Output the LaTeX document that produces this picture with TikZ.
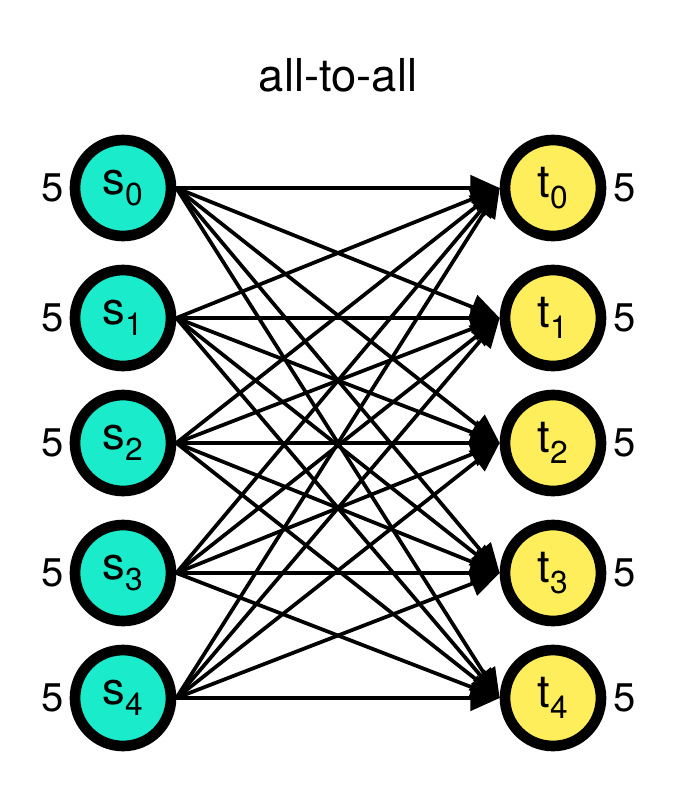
\documentclass[tikz,border=0pt]{standalone}
\usepackage{fontspec}
\setmainfont{TeX Gyre Heros}
\usetikzlibrary{arrows.meta}
\definecolor{srccol}{HTML}{19EBCB}
\definecolor{dstcol}{HTML}{FFEE5C}
\tikzset{
  vert/.style={circle, draw=black, line width=8pt, minimum size=72pt, inner sep=0pt, font=\fontsize{34}{34}\selectfont},
  src/.style={vert, fill=srccol},
  dst/.style={vert, fill=dstcol},
  weight/.style={font=\fontsize{30}{30}\selectfont},
  edge/.style={-{Triangle[length=22pt,width=19pt]}, line width=2.8pt}
}
\begin{document}
\begin{tikzpicture}[x=0.75pt,y=-0.75pt]
        \useasboundingbox (0,0) rectangle (676,800);

        % Title
        \node[font=\fontsize{34}{34}\selectfont] (title) at (338,75) {all-to-all};

        % Sources and sinks
        \foreach \i/\y in {0/188,1/318,2/443,3/573,4/698} {
          \node[src] (s\i) at (123,\y) {s\textsubscript{\i}};
          \node[dst] (t\i) at (553,\y) {t\textsubscript{\i}};
          \node[weight, anchor=east] (ls\i) at ([xshift=-1pt]s\i.west) {5};
          \node[weight, anchor=west] (lt\i) at ([xshift=2pt]t\i.east) {5};
        }

        % All edges
        \foreach \i in {0,...,4} {
          \foreach \j in {0,...,4} {
            \draw[edge] (s\i.east) -- (t\j.west);
          }
        }
\end{tikzpicture}
\end{document}
